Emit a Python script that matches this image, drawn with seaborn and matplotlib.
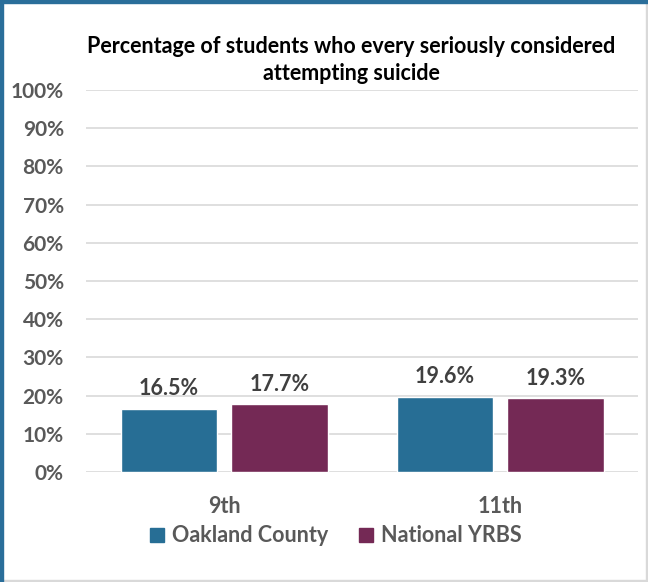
import matplotlib
matplotlib.use('Agg')
import matplotlib.pyplot as plt
import matplotlib.patches as mpatches
from matplotlib.ticker import PercentFormatter
import pandas as pd
import seaborn as sns

# data
grades = ['9th', '9th', '11th', '11th']
sources = ['Oakland County', 'National YRBS', 'Oakland County', 'National YRBS']
percent = [16.5, 17.7, 19.6, 19.3]
series_order = ['Oakland County', 'National YRBS']
series_colors = ['#276E95', '#742955']
y_ticks = list(range(0, 101, 10))

df = pd.DataFrame({'grade': grades, 'source': sources, 'percent': percent})

sns.set_style('white')
plt.rcParams['font.family'] = ['Lato', 'DejaVu Sans']
plt.rcParams['font.weight'] = 'bold'

label_gray = '#595959'

fig = plt.figure(figsize=(6.48, 5.82), dpi=100)
ax = fig.add_axes([86 / 648, 1 - 472 / 582, 552 / 648, 382 / 582])

sns.barplot(data=df, x='grade', y='percent', hue='source', hue_order=series_order,
            palette=series_colors, width=0.8, gap=0.125, ax=ax, legend=False,
            saturation=1)

for cont in ax.containers:
    ax.bar_label(cont, fmt='%.1f%%', padding=7, fontsize=15.5, color='#404040',
                 fontweight='bold')

ax.set_ylim(0, 100)
ax.set_yticks(y_ticks)
ax.yaxis.set_major_formatter(PercentFormatter(decimals=0))
ax.grid(axis='y', color='#D9D9D9', linewidth=1.2)
ax.set_axisbelow(True)
for s in ax.spines.values():
    s.set_visible(False)
ax.set_xlabel('')
ax.set_ylabel('')
ax.tick_params(axis='y', length=0, pad=16, labelsize=15, labelcolor=label_gray)
ax.tick_params(axis='x', length=0, pad=17, labelsize=15.5, labelcolor=label_gray)

# legend below the axis
handles = [mpatches.Patch(color=c, label=l) for c, l in zip(series_colors, series_order)]
fig.legend(handles=handles, loc='center', bbox_to_anchor=(336 / 648, 1 - 536 / 582),
           ncol=2, frameon=False, fontsize=15.5, handlelength=0.65, handleheight=0.65,
           handletextpad=0.4, columnspacing=1.4, labelcolor=label_gray)

fig.text(351 / 648, 1 - 60 / 582,
         'Percentage of students who every seriously considered\nattempting suicide',
         ha='center', va='center', fontsize=15.5, fontweight='bold', color='black',
         linespacing=1.35)

# chart border
fig.add_artist(mpatches.Rectangle((0, 0), 3 / 648, 1, transform=fig.transFigure,
                                  color='#2A6E9A', zorder=10))
fig.add_artist(mpatches.Rectangle((0, 1 - 3 / 582), 1, 3 / 582, transform=fig.transFigure,
                                  color='#2A6E9A', zorder=10))
fig.add_artist(mpatches.Rectangle((0, 0), 1, 2 / 582, transform=fig.transFigure,
                                  color='#D9D9D9', zorder=9))
fig.add_artist(mpatches.Rectangle((1 - 2 / 648, 0), 2 / 648, 1, transform=fig.transFigure,
                                  color='#D9D9D9', zorder=9))

fig.savefig('out.png', dpi=100)
